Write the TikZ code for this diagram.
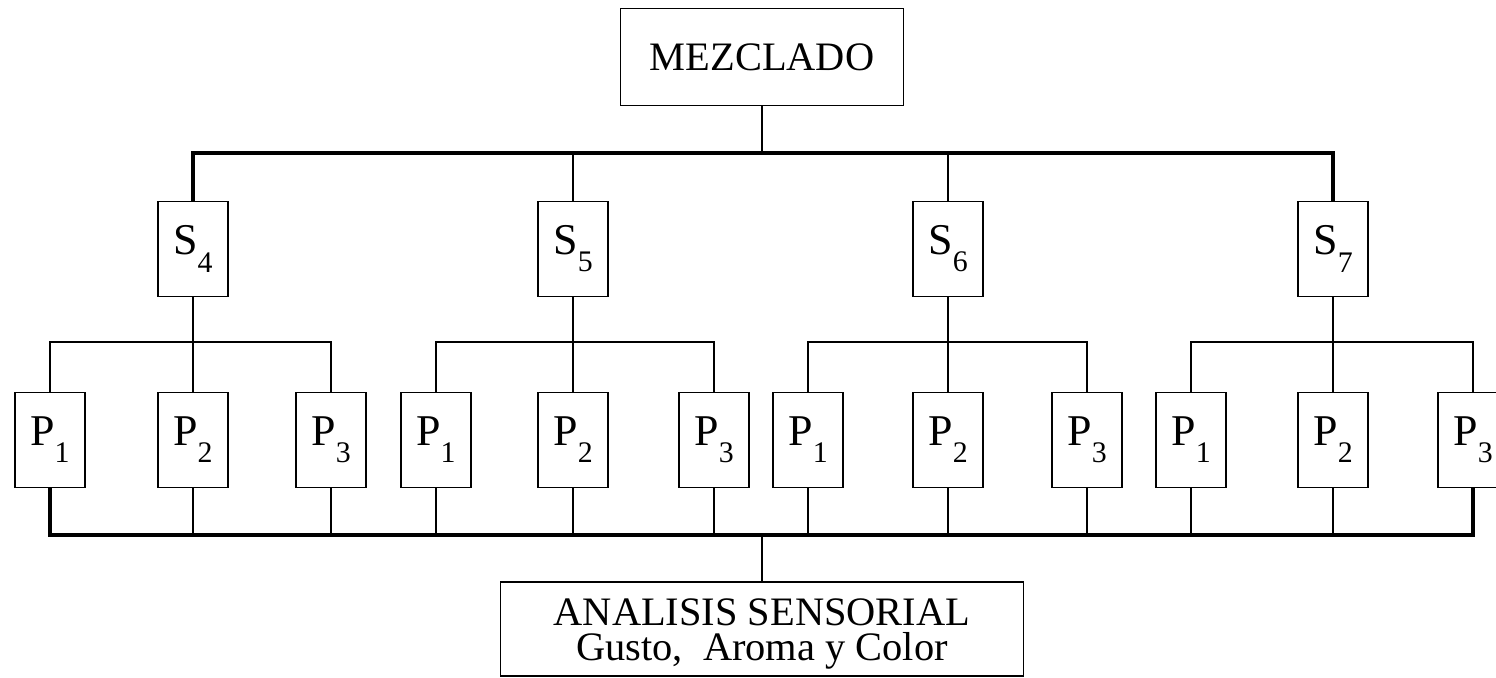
\documentclass[tikz,border=0pt]{standalone}
\usepackage{fontspec}
\setmainfont{Liberation Serif}
\newcommand{\ix}[1]{\raisebox{-0.85ex}{\fontsize{8.5}{9}\selectfont#1}}
\tikzset{bx/.style={draw,line width=0.4pt,inner sep=0pt,font=\fontsize{12.5}{10}\selectfont,minimum width=7mm,minimum height=9.5mm},
 ln/.style={line width=0.4pt},bus/.style={line width=0.9pt}}
\begin{document}
\begin{tikzpicture}[x=0.1mm,y=-0.1mm]
\useasboundingbox (0,0) rectangle (1496,677);
\node[bx,font=\fontsize{11.5}{10}\selectfont,minimum width=28.3mm,minimum height=9.7mm](mez) at (762,57){MEZCLADO};
\node[bx](s4) at (193,249){S\ix{4}};\node[bx](s5) at (573,249){S\ix{5}};\node[bx](s6) at (948,249){S\ix{6}};\node[bx](s7) at (1333,249){S\ix{7}};
\node[bx](p41) at (50,440){P\ix{1}};\node[bx](p42) at (193,440){P\ix{2}};\node[bx](p43) at (331,440){P\ix{3}};
\node[bx](p51) at (436,440){P\ix{1}};\node[bx](p52) at (573,440){P\ix{2}};\node[bx](p53) at (714,440){P\ix{3}};
\node[bx](p61) at (808,440){P\ix{1}};\node[bx](p62) at (948,440){P\ix{2}};\node[bx](p63) at (1087,440){P\ix{3}};
\node[bx](p71) at (1191,440){P\ix{1}};\node[bx](p72) at (1333,440){P\ix{2}};\node[bx](p73) at (1473,440){P\ix{3}};
\node[bx,font=\fontsize{11.5}{10}\selectfont,align=center,minimum width=52.3mm,minimum height=9.4mm](ana) at (762,629){\rule{0pt}{10.5pt}ANALISIS SENSORIAL\\Gusto,\ \ Aroma y Color};
% top level
\coordinate (t) at (762,153);
\draw[ln](mez)--(t);\draw[bus](s4.north)|-(t)-|(s7.north);\draw[ln](s5)--(s5|-t);\draw[ln](s6)--(s6|-t);
% groups
\coordinate (g4) at (193,342);\coordinate (g5) at (573,342);\coordinate (g6) at (948,342);\coordinate (g7) at (1333,342);
\draw[ln](s4)--(g4);\draw[ln](p41.north)|-(g4)-|(p43.north);\draw[ln](p42)--(g4);
\draw[ln](s5)--(g5);\draw[ln](p51.north)|-(g5)-|(p53.north);\draw[ln](p52)--(g5);
\draw[ln](s6)--(g6);\draw[ln](p61.north)|-(g6)-|(p63.north);\draw[ln](p62)--(g6);
\draw[ln](s7)--(g7);\draw[ln](p71.north)|-(g7)-|(p73.north);\draw[ln](p72)--(g7);
% bottom
\coordinate (bb) at (762,535);
\draw[bus](p41.south)|-(bb)-|(p73.south);
\draw[ln](p42)--(p42|-bb);\draw[ln](p43)--(p43|-bb);\draw[ln](p51)--(p51|-bb);\draw[ln](p52)--(p52|-bb);\draw[ln](p53)--(p53|-bb);
\draw[ln](p61)--(p61|-bb);\draw[ln](p62)--(p62|-bb);\draw[ln](p63)--(p63|-bb);\draw[ln](p71)--(p71|-bb);\draw[ln](p72)--(p72|-bb);
\draw[ln](bb)--(ana);
\end{tikzpicture}
\end{document}
